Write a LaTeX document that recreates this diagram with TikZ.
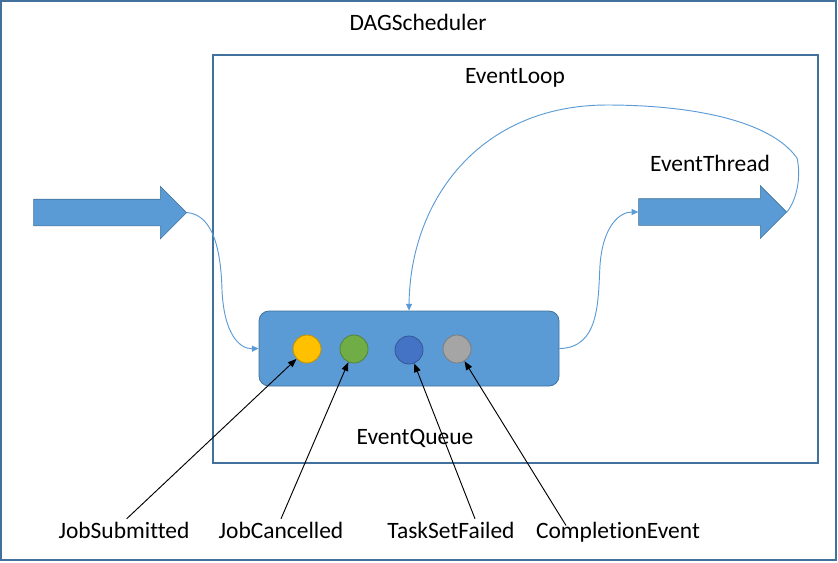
\documentclass[tikz,border=0pt]{standalone}
\usepackage{fontspec}
\setmainfont[Ligatures=NoCommon]{Carlito}
\usetikzlibrary{arrows.meta,shapes.arrows}
\definecolor{frameblue}{HTML}{41719C}
\definecolor{queueblue}{HTML}{5B9BD5}
\definecolor{evyellow}{HTML}{FFC000}
\definecolor{evgreen}{HTML}{70AD47}
\definecolor{evblue}{HTML}{4472C4}
\definecolor{evgrey}{HTML}{A5A5A5}
\tikzset{
  frame/.style={draw=frameblue,line width=0.9pt,inner sep=0pt},
  evtext/.style={anchor=base,inner sep=2pt,font=\fontsize{17.6}{21}\selectfont},
  bigarrow/.style={single arrow,draw=frameblue,line width=0.4pt,fill=queueblue,
    minimum height=114.75pt,single arrow head extend=9.75pt,
    single arrow head indent=0pt,inner xsep=0pt,inner ysep=9.75pt,anchor=tip},
  event/.style={circle,minimum size=21pt,inner sep=0pt,line width=0.6pt},
  flow/.style={draw=queueblue,line width=0.7pt,-{Triangle[length=5pt,width=4.5pt]}},
  pointer/.style={draw=black,line width=0.7pt,-{Triangle[length=6.5pt,width=5pt]}}
}
\begin{document}
\begin{tikzpicture}[x=0.75pt,y=-0.75pt]
  \useasboundingbox (0,0) rectangle (838,562);
  \draw[frameblue,line width=0.9pt] (1,1) rectangle (836,560);
  \node[evtext] (dag) at (418,30) {DAGScheduler};
  \node[frame,minimum width=453.75pt,minimum height=306pt] (loop) at (515.5,259) {};
  \node[evtext] (looptext) at (515,83) {EventLoop};
  \node[evtext] (threadtext) at (710,171) {EventThread};
  % block arrows
  \node[bigarrow] (inarrow) at (187,212.5) {};
  \node[bigarrow,minimum height=111pt] (outarrow) at (787,212) {};
  % queue and events
  \node[draw=frameblue,fill=queueblue,line width=0.6pt,rounded corners=7.5pt,
    minimum width=225pt,minimum height=56.25pt] (queue) at (409,348.5) {};
  \node[evtext] (queuetext) at (415,444) {EventQueue};
  \node[event,fill=evyellow,draw=evyellow!75!black] (yellow) at (307,349) {};
  \node[event,fill=evgreen,draw=evgreen!75!black] (green) at (354,349) {};
  \node[event,fill=evblue,draw=evblue!75!black] (blue) at (409,350) {};
  \node[event,fill=evgrey,draw=evgrey!75!black] (grey) at (457,349) {};
  % flow of events
  \draw[flow] (inarrow.tip) .. controls (215,215) and (221,255) .. (222,290)
    .. controls (224,335) and (240,349) .. (queue.west);
  \draw[flow] (queue.east) .. controls (600,348) and (598,300) .. (600,265)
    .. controls (603,225) and (620,212) .. (outarrow.tail);
  \draw[flow] (outarrow.tip) .. controls (800,195) and (800,170) .. (797,158)
    .. controls (770,120) and (690,105) .. (607,105)
    .. controls (480,105) and (410,200) .. (queue.north);
  % event labels
  \node[evtext] (jobsub) at (124,538) {JobSubmitted};
  \node[evtext] (jobcan) at (281,538) {JobCancelled};
  \node[evtext] (tsfail) at (451,538) {TaskSetFailed};
  \node[evtext] (compl) at (618,538) {CompletionEvent};
  \draw[pointer] ([xshift=2pt]jobsub.north) -- (yellow);
  \draw[pointer] (jobcan.north) -- (green);
  \draw[pointer] ([xshift=18pt]tsfail.north) -- (blue);
  \draw[pointer] ([xshift=-39pt,yshift=-5pt]compl.north) -- (grey);
\end{tikzpicture}
\end{document}
